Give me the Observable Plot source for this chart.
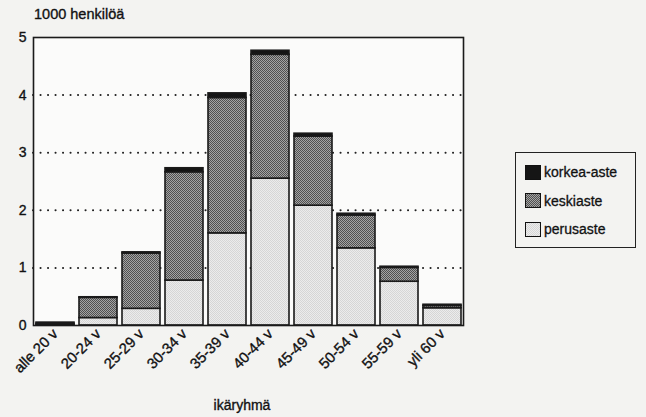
<!DOCTYPE html>
<html>
<head>
<meta charset="utf-8">
<script src="https://cdn.jsdelivr.net/npm/d3@7"></script>
<script src="https://cdn.jsdelivr.net/npm/@observablehq/plot@0.6"></script>
<style>
  html, body { margin: 0; padding: 0; background: #f3f3f1; }
  #wrap { position: relative; width: 646px; height: 417px; font-family: "Liberation Sans", Arial, sans-serif; color: #111; }
  #title { position: absolute; left: 34px; top: 6px; font-size: 14.5px; -webkit-text-stroke: 0.35px #111; }
  #xlabel { position: absolute; left: 0; width: 484px; top: 397px; text-align: center; font-size: 14px; -webkit-text-stroke: 0.35px #111; }
  #legend { position: absolute; left: 515px; top: 152px; width: 121px; height: 96px; border: 1.4px solid #222; box-sizing: border-box; font-size: 14px; -webkit-text-stroke: 0.3px #111; }
  .item { position: absolute; left: 9px; display: flex; align-items: center; }
  .sw { width: 16px; height: 15px; border: 1.4px solid #111; box-sizing: border-box; margin-right: 3px; }
  #chart svg text { stroke: #111; stroke-width: 0.35px; }
</style>
</head>
<body>
<div id="wrap">
  <div id="chart"></div>
  <div id="title">1000 henkilöä</div>
  <div id="xlabel">ikäryhmä</div>
  <div id="legend"></div>
</div>
<script>
const ageGroups = ["alle 20 v","20-24 v","25-29 v","30-34 v","35-39 v","40-44 v","45-49 v","50-54 v","55-59 v","yli 60 v"];
const series = ["korkea-aste","keskiaste","perusaste"];
const perusaste = [0.01, 0.13, 0.29, 0.78, 1.60, 2.55, 2.08, 1.34, 0.76, 0.30];
const keskiaste = [0.02, 0.35, 0.96, 1.88, 2.35, 2.15, 1.20, 0.57, 0.24, 0.04];
const korkeaAste = [0.02, 0.01, 0.02, 0.07, 0.08, 0.07, 0.05, 0.03, 0.02, 0.02];
const yTicks = [0, 1, 2, 3, 4, 5];
const gridLines = [1, 2, 3, 4];
const fills = ["#151515", "url(#patKeski)", "url(#patPerus)"];
const legendFills = [
  "#151515",
  "repeating-conic-gradient(#505050 0 25%, #a4a4a4 0 50%) 0 0/2px 2px",
  "repeating-conic-gradient(#d6d6d6 0 25%, #ececec 0 50%) 0 0/2px 2px"
];

const rows = [];
ageGroups.forEach((g, i) => {
  rows.push({group: g, series: "perusaste", value: perusaste[i]});
  rows.push({group: g, series: "keskiaste", value: keskiaste[i]});
  rows.push({group: g, series: "korkea-aste", value: korkeaAste[i]});
});

const chart = Plot.plot({
  width: 646,
  height: 417,
  marginLeft: 33,
  marginRight: 183,
  marginTop: 37,
  marginBottom: 92,
  style: {background: "transparent", fontFamily: "'Liberation Sans', Arial, sans-serif", fontSize: "14px", color: "#111"},
  x: {domain: ageGroups, paddingInner: 0.12, paddingOuter: 0.05, label: null},
  y: {domain: [0, 5], label: null},
  color: {domain: series, range: fills},
  marks: [
    Plot.frame({fill: "#fbfbfa", stroke: null}),
    Plot.ruleY(gridLines, {stroke: "#222", strokeWidth: 2, strokeDasharray: "0.1,7.4", strokeLinecap: "round"}),
    Plot.barY(rows, {
      x: "group", y: "value", fill: "series",
      order: ["perusaste", "keskiaste", "korkea-aste"],
      stroke: "#1a1a1a", strokeWidth: 1.6
    }),
    Plot.frame({stroke: "#1a1a1a", strokeWidth: 1.6}),
    Plot.axisY({ticks: yTicks, tickSize: 0, tickPadding: 7, label: null, tickFormat: d => d}),
    Plot.axisX({tickSize: 0, tickPadding: 6, tickRotate: -45, label: null, fontSize: 14.8})
  ]
});

// stipple patterns referenced by the fill range
const ns = "http://www.w3.org/2000/svg";
const defs = document.createElementNS(ns, "defs");
function addPattern(id, a, b) {
  const p = document.createElementNS(ns, "pattern");
  p.setAttribute("id", id);
  p.setAttribute("width", 2); p.setAttribute("height", 2);
  p.setAttribute("patternUnits", "userSpaceOnUse");
  [[0,0,a],[1,0,b],[0,1,b],[1,1,a]].forEach(([x,y,c]) => {
    const r = document.createElementNS(ns, "rect");
    r.setAttribute("x", x); r.setAttribute("y", y);
    r.setAttribute("width", 1); r.setAttribute("height", 1);
    r.setAttribute("fill", c);
    p.appendChild(r);
  });
  defs.appendChild(p);
}
addPattern("patKeski", "#505050", "#a4a4a4");
addPattern("patPerus", "#d6d6d6", "#ececec");
chart.insertBefore(defs, chart.firstChild);
document.getElementById("chart").appendChild(chart);

const legend = document.getElementById("legend");
series.forEach((s, i) => {
  const it = document.createElement("div");
  it.className = "item";
  it.style.top = (11 + i * 28.5) + "px";
  const sw = document.createElement("div");
  sw.className = "sw";
  sw.style.background = legendFills[i];
  it.appendChild(sw);
  const t = document.createElement("span");
  t.textContent = s;
  it.appendChild(t);
  legend.appendChild(it);
});
</script>
</body>
</html>
